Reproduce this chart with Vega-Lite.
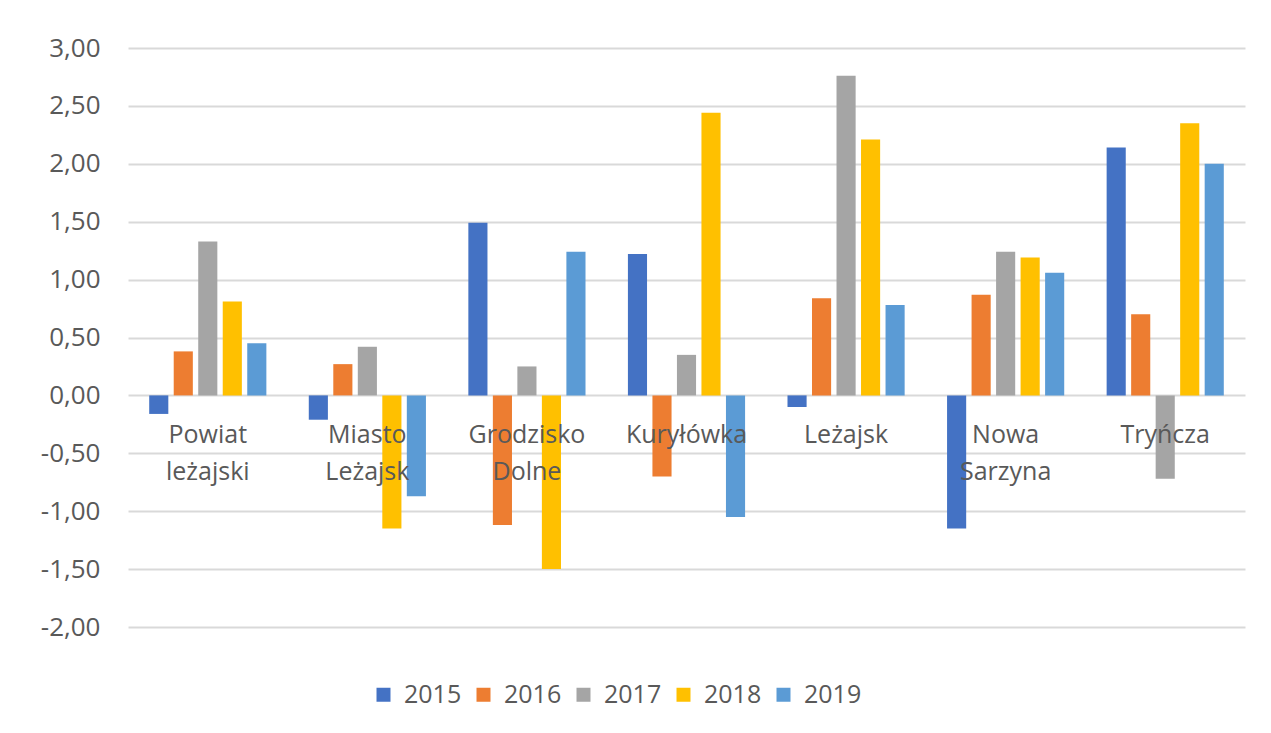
{
  "$schema": "https://vega.github.io/schema/vega-lite/v6.json",
  "width": 1117,
  "height": 579,
  "autosize": {"type": "none"},
  "padding": {"left": 128, "top": 48, "right": 26, "bottom": 106},
  "background": "white",
  "config": {
    "locale": {"number": {"decimal": ",", "thousands": " ", "grouping": [3], "currency": ["", " zł"], "minus": "-"}},
    "view": {"stroke": null},
    "font": "Open Sans"
  },
  "datasets": {
    "bars": [
      {"gmina": "Powiat leżajski", "rok": "2015", "wartosc": -0.16},
      {"gmina": "Powiat leżajski", "rok": "2016", "wartosc": 0.38},
      {"gmina": "Powiat leżajski", "rok": "2017", "wartosc": 1.33},
      {"gmina": "Powiat leżajski", "rok": "2018", "wartosc": 0.81},
      {"gmina": "Powiat leżajski", "rok": "2019", "wartosc": 0.45},
      {"gmina": "Miasto Leżajsk", "rok": "2015", "wartosc": -0.21},
      {"gmina": "Miasto Leżajsk", "rok": "2016", "wartosc": 0.27},
      {"gmina": "Miasto Leżajsk", "rok": "2017", "wartosc": 0.42},
      {"gmina": "Miasto Leżajsk", "rok": "2018", "wartosc": -1.15},
      {"gmina": "Miasto Leżajsk", "rok": "2019", "wartosc": -0.87},
      {"gmina": "Grodzisko Dolne", "rok": "2015", "wartosc": 1.49},
      {"gmina": "Grodzisko Dolne", "rok": "2016", "wartosc": -1.12},
      {"gmina": "Grodzisko Dolne", "rok": "2017", "wartosc": 0.25},
      {"gmina": "Grodzisko Dolne", "rok": "2018", "wartosc": -1.5},
      {"gmina": "Grodzisko Dolne", "rok": "2019", "wartosc": 1.24},
      {"gmina": "Kuryłówka", "rok": "2015", "wartosc": 1.22},
      {"gmina": "Kuryłówka", "rok": "2016", "wartosc": -0.7},
      {"gmina": "Kuryłówka", "rok": "2017", "wartosc": 0.35},
      {"gmina": "Kuryłówka", "rok": "2018", "wartosc": 2.44},
      {"gmina": "Kuryłówka", "rok": "2019", "wartosc": -1.05},
      {"gmina": "Leżajsk", "rok": "2015", "wartosc": -0.1},
      {"gmina": "Leżajsk", "rok": "2016", "wartosc": 0.84},
      {"gmina": "Leżajsk", "rok": "2017", "wartosc": 2.76},
      {"gmina": "Leżajsk", "rok": "2018", "wartosc": 2.21},
      {"gmina": "Leżajsk", "rok": "2019", "wartosc": 0.78},
      {"gmina": "Nowa Sarzyna", "rok": "2015", "wartosc": -1.15},
      {"gmina": "Nowa Sarzyna", "rok": "2016", "wartosc": 0.87},
      {"gmina": "Nowa Sarzyna", "rok": "2017", "wartosc": 1.24},
      {"gmina": "Nowa Sarzyna", "rok": "2018", "wartosc": 1.19},
      {"gmina": "Nowa Sarzyna", "rok": "2019", "wartosc": 1.06},
      {"gmina": "Tryńcza", "rok": "2015", "wartosc": 2.14},
      {"gmina": "Tryńcza", "rok": "2016", "wartosc": 0.7},
      {"gmina": "Tryńcza", "rok": "2017", "wartosc": -0.72},
      {"gmina": "Tryńcza", "rok": "2018", "wartosc": 2.35},
      {"gmina": "Tryńcza", "rok": "2019", "wartosc": 2.0}
    ],
    "labels": [
      {"gmina": "Powiat leżajski", "label": "Powiat\nleżajski"},
      {"gmina": "Miasto Leżajsk", "label": "Miasto\nLeżajsk"},
      {"gmina": "Grodzisko Dolne", "label": "Grodzisko\nDolne"},
      {"gmina": "Kuryłówka", "label": "Kuryłówka"},
      {"gmina": "Leżajsk", "label": "Leżajsk"},
      {"gmina": "Nowa Sarzyna", "label": "Nowa\nSarzyna"},
      {"gmina": "Tryńcza", "label": "Tryńcza"}
    ]
  },
  "layer": [
    {
      "data": {"name": "bars"},
      "mark": {"type": "bar"},
      "encoding": {
        "x": {"field": "gmina", "type": "nominal", "sort": null, "scale": {"paddingInner": 0.232, "paddingOuter": 0.116}, "axis": null},
        "xOffset": {"field": "rok", "type": "nominal", "scale": {"paddingInner": 0.22, "paddingOuter": 0.11}},
        "y": {
          "field": "wartosc", "type": "quantitative",
          "scale": {"domain": [-2, 3], "nice": false, "zero": false},
          "axis": {
            "values": [-2, -1.5, -1, -0.5, 0, 0.5, 1, 1.5, 2, 2.5, 3],
            "format": ".2f", "title": null, "domain": false, "ticks": false,
            "labelPadding": 28, "labelFontSize": 26, "labelColor": "#595959", "labelFont": "Open Sans",
            "gridColor": "#D9D9D9", "gridWidth": 1.8
          }
        },
        "color": {
          "field": "rok", "type": "nominal",
          "scale": {"domain": ["2015", "2016", "2017", "2018", "2019"], "range": ["#4472C4", "#ED7D31", "#A5A5A5", "#FFC000", "#5B9BD5"]},
          "legend": {
            "title": null, "orient": "none", "direction": "horizontal", "legendX": 243, "legendY": 634,
            "symbolType": "square", "symbolSize": 196, "symbolStrokeWidth": 0, "symbolOpacity": 1,
            "labelFontSize": 25, "labelColor": "#595959", "labelFont": "Open Sans", "labelOffset": 8, "columnPadding": 9
          }
        }
      }
    },
    {
      "data": {"name": "labels"},
      "mark": {"type": "text", "lineBreak": "\n", "fontSize": 25, "font": "Open Sans", "color": "#595959", "baseline": "alphabetic", "align": "center", "dy": 48, "lineHeight": 37},
      "encoding": {
        "x": {"field": "gmina", "type": "nominal", "sort": null},
        "y": {"datum": 0},
        "text": {"field": "label"}
      }
    }
  ]
}
